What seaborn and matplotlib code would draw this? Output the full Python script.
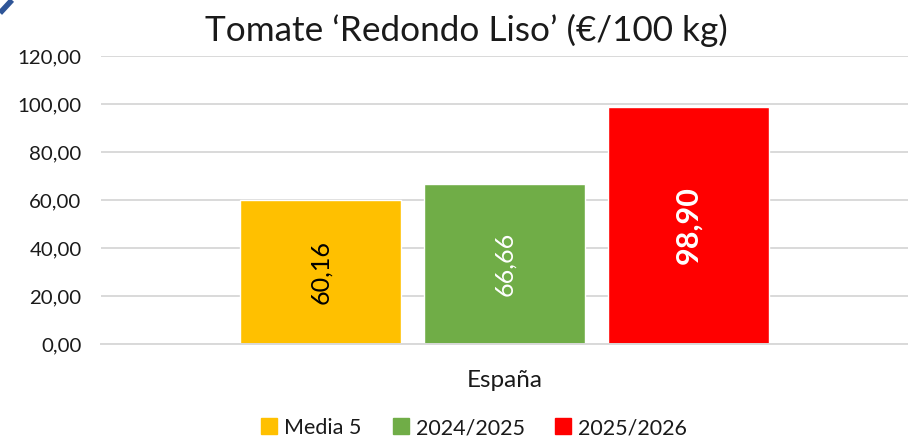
import matplotlib
matplotlib.use("Agg")
import matplotlib.pyplot as plt
import matplotlib.ticker as mticker
from matplotlib.lines import Line2D
import seaborn as sns
import pandas as pd

# Price data (€/100 kg)
categories = ["España"]
series = ["Media 5", "2024/2025", "2025/2026"]
values = [60.16, 66.66, 98.90]
colors = ["#FFC000", "#70AD47", "#FF0000"]
yticks = [0, 20, 40, 60, 80, 100, 120]

df = pd.DataFrame({
    "region": categories * len(series),
    "serie": series,
    "valor": values,
})

sns.set_theme(style="white")
plt.rcParams["font.family"] = ["Lato", "DejaVu Sans"]

fig = plt.figure(figsize=(9.08, 4.40), dpi=100)
ax = fig.add_axes([101 / 908, 1 - 344 / 440, 1 - 101 / 908, (344 - 56) / 440])

sns.barplot(data=df, x="region", y="valor", hue="serie", hue_order=series,
            palette=colors, width=0.684, gap=0.13, saturation=1,
            legend=False, ax=ax)

ax.set_ylim(0, 120)
ax.set_xlim(-0.5, 0.5)
ax.set_yticks(yticks)
ax.yaxis.set_major_formatter(mticker.FuncFormatter(lambda v, p: f"{v:.2f}".replace(".", ",")))
ax.grid(axis="y", color="#D9D9D9", linewidth=1.4)
ax.set_axisbelow(True)
for s in ["left", "right", "top"]:
    ax.spines[s].set_visible(False)
ax.spines["bottom"].set_color("#D9D9D9")
ax.spines["bottom"].set_linewidth(1.4)
ax.tick_params(axis="y", length=0, labelsize=14.7, colors="#1a1a1a", pad=14)
ax.tick_params(axis="x", length=0, labelsize=17.5, colors="#1a1a1a", pad=19)
ax.set_xlabel("")
ax.set_ylabel("")

# value labels inside bars
label_styles = [
    dict(color="black", fontsize=18, fontweight="normal"),
    dict(color="white", fontsize=18, fontweight="normal"),
    dict(color="white", fontsize=22, fontweight="bold"),
]
for patch, val, st in zip(ax.patches, values, label_styles):
    cx = patch.get_x() + patch.get_width() / 2
    ax.text(cx, val / 2, f"{val:.2f}".replace(".", ","), rotation=90,
            ha="center", va="center", **st)

fig.text(0.5 + 12 / 908, 1 - 30 / 440, "Tomate \u2018Redondo Liso\u2019 (\u20ac/100 kg)",
         ha="center", va="center", fontsize=25.3, color="#1a1a1a")

handles = [Line2D([0], [0], marker="s", linestyle="", markersize=12,
                  markerfacecolor=c, markeredgecolor=c) for c in colors]
fig.legend(handles, series, loc="center", bbox_to_anchor=(0.5 + 20 / 908, 1 - 428 / 440),
           ncol=3, frameon=False, fontsize=15.5, handlelength=0.8, handletextpad=0.3,
           columnspacing=1.4, labelcolor="#1a1a1a")

# corner mark
fig.add_artist(Line2D([0, 12 / 908], [1 - 13 / 440, 1], transform=fig.transFigure,
                      color="#2F5597", linewidth=4, solid_capstyle="butt"))

fig.savefig("out.png", dpi=100)
